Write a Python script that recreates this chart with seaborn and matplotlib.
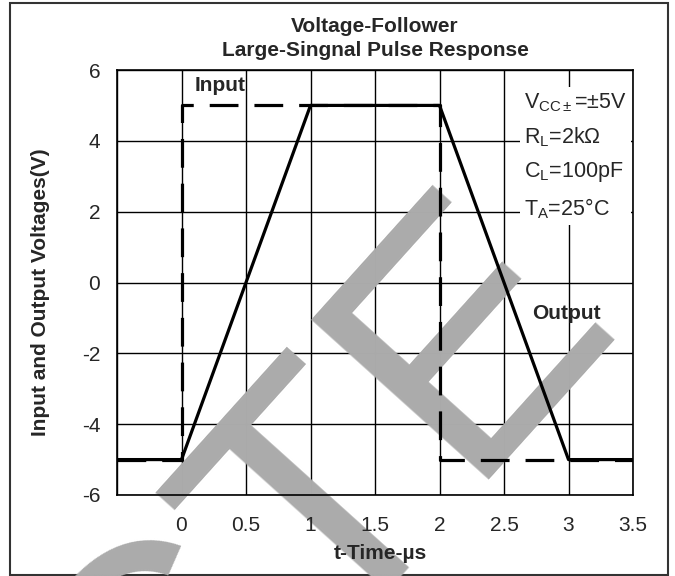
import matplotlib
matplotlib.use("Agg")
import matplotlib.pyplot as plt
import matplotlib.patches as patches
import seaborn as sns
import pandas as pd

# pulse response data (time in us, voltage in V)
input_t = [-0.5, 0, 0, 2, 2, 3.5]
input_v = [-5, -5, 5, 5, -5, -5]
output_t = [-0.5, 0, 1, 2, 3, 3.5]
output_v = [-5, -5, 5, 5, -5, -5]

x_ticks = [0, 0.5, 1, 1.5, 2, 2.5, 3, 3.5]
x_labels = ["0", "0.5", "1", "1.5", "2", "2.5", "3", "3.5"]
y_ticks = [-6, -4, -2, 0, 2, 4, 6]

df_in = pd.DataFrame({"t": input_t, "v": input_v})
df_out = pd.DataFrame({"t": output_t, "v": output_v})

sns.set_theme(style="white")
plt.rcParams["font.family"] = ["Liberation Sans", "DejaVu Sans"]
plt.rcParams["mathtext.fontset"] = "custom"
plt.rcParams["mathtext.rm"] = "Liberation Sans"
plt.rcParams["mathtext.it"] = "Liberation Sans"
plt.rcParams["axes.unicode_minus"] = False

fig = plt.figure(figsize=(6.75, 5.76), dpi=100)
pos = [117 / 675, 1 - 495 / 576, 516 / 675, 425 / 576]

# grid layer (below the watermark)
ax_grid = fig.add_axes(pos)
ax_grid.set_xlim(-0.5, 3.5)
ax_grid.set_ylim(-6, 6)
ax_grid.set_xticks([-0.5] + x_ticks)
ax_grid.set_yticks(y_ticks)
ax_grid.grid(True, color="black", linewidth=1)
ax_grid.tick_params(labelbottom=False, labelleft=False, length=0)
for s in ax_grid.spines.values():
    s.set_visible(False)
ax_grid.set_zorder(0)

# watermark
fig.text(0.475, 0.11, "CTE", rotation=48, fontsize=250, color="#ababab",
         ha="center", va="center", rotation_mode="anchor", zorder=1)

# data layer
ax = fig.add_axes(pos)
ax.set_zorder(2)
ax.patch.set_alpha(0)
sns.lineplot(data=df_in, x="t", y="v", ax=ax, sort=False, estimator=None,
             color="black", linewidth=2.3, dashes=False)
ax.lines[-1].set_dashes((9, 5))
sns.lineplot(data=df_out, x="t", y="v", ax=ax, sort=False, estimator=None,
             color="black", linewidth=2.3)

ax.set_xlim(-0.5, 3.5)
ax.set_ylim(-6, 6)
ax.set_xticks(x_ticks)
ax.set_xticklabels(x_labels)
ax.set_yticks(y_ticks)
ax.tick_params(axis="x", labelsize=15, pad=15, length=0)
ax.tick_params(axis="y", labelsize=15, pad=12, length=0)
for s in ax.spines.values():
    s.set_color("black")
    s.set_linewidth(1.2)

ax.set_xlabel("t-Time-µs", fontsize=15, fontweight="bold")
ax.xaxis.set_label_coords(0.51, -0.115)
ax.set_ylabel("Input and Output Voltages(V)", fontsize=15, fontweight="bold")
ax.yaxis.set_label_coords(-0.13, 0.478)
ax.set_title("Voltage-Follower\nLarge-Singnal Pulse Response", fontsize=15,
             fontweight="bold", pad=10, linespacing=1.35)

ax.text(0.1, 5.57, "Input", fontsize=15, fontweight="bold", ha="left", va="center")
ax.text(2.72, -0.88, "Output", fontsize=15, fontweight="bold", ha="left", va="center")

cond = ("V$_{\\mathrm{CC\\pm}}$=±5V\n"
        "R$_{\\mathrm{L}}$=2kΩ\n"
        "C$_{\\mathrm{L}}$=100pF\n"
        "T$_{\\mathrm{A}}$=25°C")
ax.text(2.655, 5.4, cond, fontsize=15.5, ha="left", va="top", linespacing=1.65,
        bbox=dict(facecolor="white", edgecolor="none", pad=3))

# outer frame
fig.patches.append(patches.Rectangle((10 / 675, 1 - 575 / 576), 658 / 675, 572 / 576,
                                     transform=fig.transFigure, fill=False,
                                     edgecolor="#333333", linewidth=1.5))

fig.savefig("out.png", dpi=100)
